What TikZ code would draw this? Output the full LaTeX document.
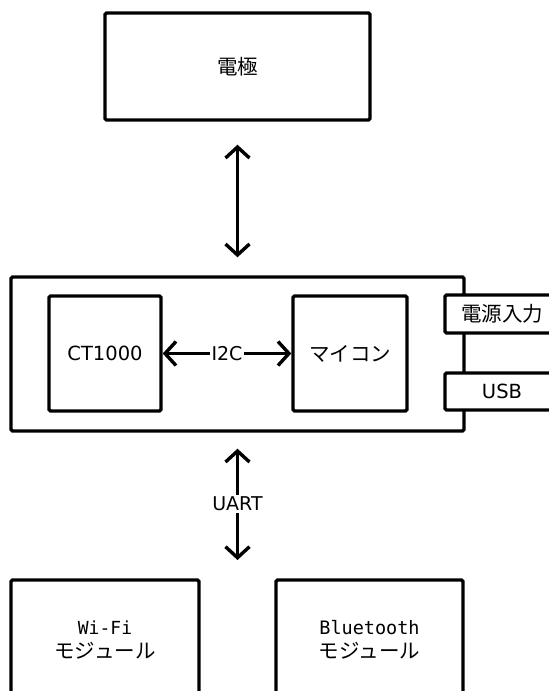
\documentclass[tikz,border=0pt]{standalone}
\usepackage{fontspec}
\setmainfont{DejaVu Sans}
\newfontfamily\jp{Noto Sans CJK JP}
\newfontfamily\mono{DejaVu Sans Mono}
\usetikzlibrary{arrows.meta}
\begin{document}
\begin{tikzpicture}[x=1pt,y=1pt,
  box/.style={draw, line width=3.4pt, rounded corners=1.5pt, fill=white, inner sep=0pt, align=center},
  arr/.style={line width=3.4pt, {Straight Barb[length=11pt,width=24pt]}-{Straight Barb[length=11pt,width=24pt]}},
  lbl/.style={fill=white, inner sep=1.5pt, font=\fontsize{19}{22}\selectfont},
  jpf/.style={font=\jp\fontsize{20.5}{24}\selectfont},
  ltf/.style={font=\fontsize{19.5}{22}\selectfont},
  twol/.style={font=\fontsize{20}{24}\selectfont}]
\useasboundingbox (0,0) rectangle (549,-691);
\clip (0,0) rectangle (549,-691);
\node[box, jpf, minimum width=265pt, minimum height=107pt] (den) at (237.5,-66.5) {電極};
\node[box, minimum width=453pt, minimum height=154pt] (main) at (237.5,-354) {};
\node[box, ltf, minimum width=112pt, minimum height=115pt] (ct) at (105,-353.5) {CT1000};
\node[box, jpf, minimum width=114pt, minimum height=115pt] (mc) at (350,-353.5) {マイコン};
\node[box, jpf, minimum width=114pt, minimum height=38pt] (pw) at (502,-314) {電源入力};
\node[box, ltf, minimum width=114pt, minimum height=37pt] (usb) at (502,-391.5) {USB};
\node[box, twol, minimum width=188pt, minimum height=120pt] (wifi) at (105,-640)
  {{\mono\fontsize{18}{24}\selectfont Wi-Fi}\\{\jp\fontsize{20.5}{24}\selectfont モジュール}};
\node[box, twol, minimum width=187pt, minimum height=120pt] (bt) at (369.5,-640)
  {{\mono\fontsize{18.5}{24}\selectfont Bluetooth}\\{\jp\fontsize{20.5}{24}\selectfont モジュール}};
\coordinate (uartend) at (237.5,-560);
\draw[arr, shorten <=23pt, shorten >=18pt] (den.south) -- (main.north);
\draw[arr] (ct.east) -- (mc.west) node[lbl, midway] {I2C};
\draw[arr, shorten <=16pt] (main.south) -- (uartend) node[lbl, pos=0.56] {UART};
\end{tikzpicture}
\end{document}
